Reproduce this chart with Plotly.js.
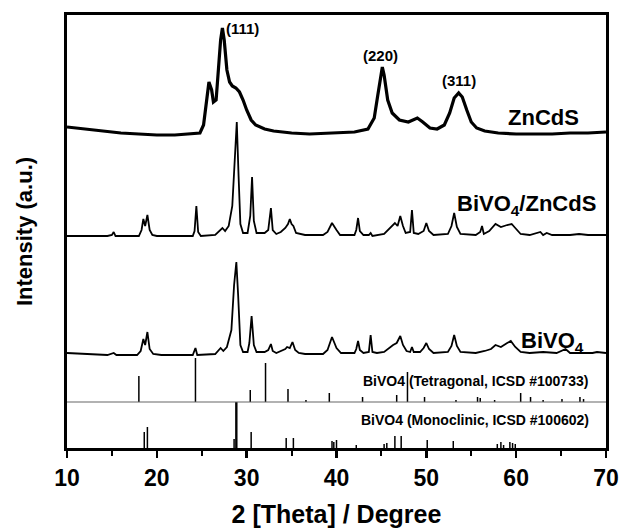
<!DOCTYPE html>
<html>
<head>
<meta charset="utf-8">
<script src="https://cdn.plot.ly/plotly-3.0.1.min.js"></script>
<style>html,body{margin:0;padding:0;background:#fff;}#chart{width:619px;height:529px;}</style>
</head>
<body>
<div id="chart"></div>
<script>
// ZnCdS pattern (2θ, intensity above its baseline)
const zncdsX = [10,11,12,14,16,18,20,22,24,24.8,25.2,25.5,25.8,26.1,26.3,26.6,26.9,27.1,27.3,27.5,27.8,28.1,28.4,28.8,29.2,29.6,30.0,30.5,31,32,33,35,37,40,42,43.5,44.2,44.6,45.0,45.1,45.3,45.7,46.2,47,48,49,49.6,50.4,51.2,52,52.6,53.1,53.6,54.0,54.5,55,55.6,56.5,58,60,62,64,66,68,70];
const zncdsY = [6,5,4,2,0,-1,-2,-2,-1,0,8,28,51,43,31,33,68,93,105,93,63,51,47,45,41,33,23,13,8,4,2,0,-1,0,1,4,15,38,63,66,58,33,20,13,11,15,11,5,4,8,20,35,40,36,23,11,5,2,0,-1,-1,-1,0,0,1];

// BiVO4/ZnCdS pattern
const compX = [10,14.5,15.0,15.2,15.4,18.0,18.3,18.5,18.7,18.95,19.2,19.5,20,24.0,24.2,24.4,24.6,24.9,26.5,27.0,27.3,27.6,28.0,28.4,28.7,28.9,29.1,29.3,29.6,30.1,30.4,30.6,30.8,31.1,32.0,32.4,32.7,32.9,33.3,33.8,34.3,34.6,34.8,35.0,35.2,35.5,36.5,38.5,39.0,39.5,40.0,40.4,42.0,42.2,42.4,42.6,43.0,43.6,43.8,44.0,45.3,45.9,46.5,46.8,47.1,47.4,47.7,48.2,48.4,48.6,49.1,49.7,50.0,50.3,50.8,52.4,52.8,53.1,53.4,53.8,55.5,56.0,56.2,56.4,57.0,57.7,58.3,59.0,59.5,59.9,60.5,61.5,62.7,63.0,63.4,64,66,67,68,70];
const compY = [0,0,1,4,0,0,6,17,10,21,6,1,0,0,5,30,4,0,1,6,8,5,10,30,80,114,60,12,3,3,20,59,15,3,3,6,28,6,2,4,8,12,17,12,10,3,1,1,4,13,6,1,1,6,18,5,1,1,3,0,2,8,13,10,20,10,3,4,26,3,2,5,13,5,1,2,10,23,9,2,1,4,10,2,5,12,9,11,12,8,2,1,4,1,3,1,1,2,1,1];

// BiVO4 pattern
const bivoX = [10,12,14.5,15.2,15.5,17.8,18.2,18.5,18.7,18.95,19.2,19.6,20.5,24.0,24.3,24.5,26.5,27.1,27.4,27.8,28.3,28.6,28.85,29.05,29.3,29.6,30.1,30.3,30.55,30.8,31.1,32.0,32.4,32.7,32.9,33.3,33.8,34.3,34.5,34.8,35.1,35.4,35.8,36.5,38.5,39.0,39.5,40.0,40.5,42.0,42.2,42.4,42.6,43.0,43.6,43.8,44.0,44.5,45.3,45.8,46.3,46.7,47.1,47.4,47.8,48.2,48.4,48.6,49.3,49.7,50.0,50.3,50.8,52.4,52.8,53.1,53.4,53.8,55.5,56.5,57.2,57.7,58.3,59.0,59.4,59.9,60.5,61.5,63,64.5,65.5,66,67.5,68.5,69,70];
const bivoY = [2,1,0,2,0,0,4,16,10,23,6,1,0,0,7,0,1,7,4,8,25,70,93,60,10,3,3,12,39,10,3,3,5,11,4,2,4,6,8,7,13,5,2,1,1,5,18,7,2,2,6,14,5,2,3,20,3,2,3,7,10,12,19,10,4,3,8,3,3,7,12,6,2,3,9,20,9,3,2,4,6,10,8,12,14,8,3,2,3,2,6,2,2,2,3,2];

// Reference sticks: BiVO4 tetragonal (ICSD #100733)
const tetraX = [18.0,24.3,30.4,32.1,34.6,36.6,39.2,42.9,46.7,47.9,49.8,53.3,55.7,56.0,57.6,60.5,61.6,63.0,65.1,67.1,67.5];
const tetraH = [26,44,12,39,13,2,9,5,7,30,5,2,5,4,2,9,5,2,3,5,3];

// Reference sticks: BiVO4 monoclinic (ICSD #100602)
const monoX = [18.6,18.95,28.6,28.8,28.9,30.5,34.4,35.2,39.5,39.7,40.0,42.2,45.3,45.6,46.5,47.2,50.1,53.0,57.9,58.3,58.6,59.3,59.6,59.9];
const monoH = [16,21,9,46,46,16,10,10,7,6,8,3,4,5,12,12,8,7,4,6,3,6,5,4];

const xTickVals = [10,20,30,40,50,60,70];

// vertical stacking offsets (display positions)
const OFF = {zncds: 315, comp: 212, bivo: 93, tetra: 46, mono: 0};

function shift(arr, o){ return arr.map(v => v + o); }
function sticks(xs, hs, base){
  const x = [], y = [];
  xs.forEach((v,i) => { x.push(v, v, null); y.push(base, base + hs[i], null); });
  return {x, y};
}

const FONT = 'Liberation Sans, Arial, Helvetica, sans-serif';
const tS = sticks(tetraX, tetraH, OFF.tetra);
const mS = sticks(monoX, monoH, OFF.mono);

const traces = [
  {x: zncdsX, y: shift(zncdsY, OFF.zncds), type: 'scatter', mode: 'lines', line: {color: '#000', width: 3.2}, hoverinfo: 'skip'},
  {x: compX, y: shift(compY, OFF.comp), type: 'scatter', mode: 'lines', line: {color: '#000', width: 1.8}, hoverinfo: 'skip'},
  {x: bivoX, y: shift(bivoY, OFF.bivo), type: 'scatter', mode: 'lines', line: {color: '#000', width: 1.8}, hoverinfo: 'skip'},
  {x: tS.x, y: tS.y, type: 'scatter', mode: 'lines', line: {color: '#000', width: 1.5}, connectgaps: false, hoverinfo: 'skip'},
  {x: mS.x, y: mS.y, type: 'scatter', mode: 'lines', line: {color: '#000', width: 1.5}, connectgaps: false, hoverinfo: 'skip'}
];

const ann = (text, x, y, size, xanchor) => ({
  text, x, y, xref: 'x', yref: 'y', showarrow: false,
  xanchor: xanchor || 'center', yanchor: 'middle',
  font: {family: FONT, size, color: '#000', weight: 'bold'}
});

const layout = {
  width: 619, height: 529,
  margin: {l: 67, r: 13, t: 15, b: 81},
  paper_bgcolor: '#fff', plot_bgcolor: '#fff',
  showlegend: false,
  xaxis: {
    range: [10, 70], tickvals: xTickVals, ticktext: xTickVals.map(String),
    ticks: 'outside', ticklen: 7, tickwidth: 2.5, tickcolor: '#000',
    minor: {dtick: 5, ticks: 'outside', ticklen: 5, tickwidth: 2, tickcolor: '#000', showgrid: false},
    showline: true, linewidth: 3, linecolor: '#000', mirror: true,
    showgrid: false, zeroline: false,
    tickfont: {family: FONT, size: 23, color: '#000', weight: 'bold'},
    title: {text: '2 [Theta] / Degree', standoff: 16, font: {family: FONT, size: 25, color: '#000', weight: 'bold'}}
  },
  yaxis: {
    range: [0, 433], showticklabels: false, ticks: '',
    showline: true, linewidth: 3, linecolor: '#000', mirror: true,
    showgrid: false, zeroline: false,
    title: {text: 'Intensity (a.u.)', standoff: 26, font: {family: FONT, size: 22, color: '#000', weight: 'bold'}}
  },
  shapes: [
    {type: 'line', xref: 'x', yref: 'y', x0: 10, x1: 70, y0: OFF.tetra, y1: OFF.tetra, line: {color: '#666', width: 1.2}}
  ],
  annotations: [
    ann('(111)', 27.5, 420, 15, 'left'),
    ann('(220)', 44.86, 393, 15),
    ann('(311)', 53.65, 368, 15),
    ann('ZnCdS', 63.0, 331, 22),
    ann('BiVO<sub>4</sub>/ZnCdS', 61.2, 243, 22),
    ann('BiVO<sub>4</sub>', 64.0, 106, 22),
    ann('BiVO4 (Tetragonal, ICSD #100733)', 55.5, 67, 14),
    ann('BiVO4 (Monoclinic, ICSD #100602)', 55.4, 28, 14)
  ]
};

Plotly.newPlot('chart', traces, layout, {displayModeBar: false, staticPlot: true});
</script>
</body>
</html>
